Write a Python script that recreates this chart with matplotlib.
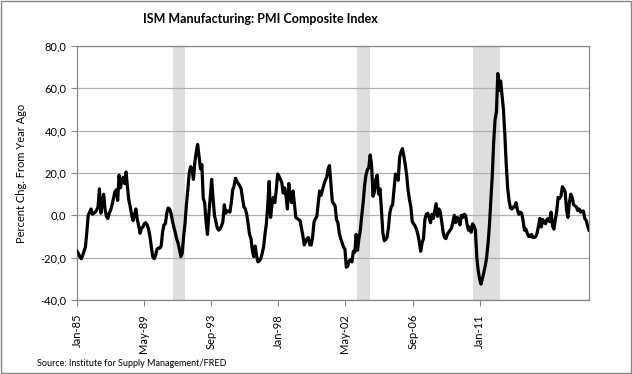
import numpy as np
import matplotlib
matplotlib.use("Agg")
import matplotlib.pyplot as plt
from matplotlib.patches import Rectangle
from matplotlib.ticker import FuncFormatter

plt.rcParams['font.family'] = ['Lato', 'DejaVu Sans']

# year-over-year % change of ISM PMI, monthly Jan-1985 .. Jun-2015
y1985 = [-17.0, -18.0, -19.5, -20.5, -19.0, -17.0, -15.0, -8.0, 0.0, 1.5, 3.0, 0.5]
y1986 = [1.0, 1.5, 2.5, 4.0, 12.5, 1.0, 5.0, 10.0, 3.0, -0.5, -1.5, 1.0]
y1987 = [2.5, 5.0, 8.0, 11.0, 12.0, 7.0, 19.0, 13.0, 17.0, 18.0, 15.0, 20.5]
y1988 = [13.0, 7.0, 4.0, 0.0, -2.5, 0.5, 3.0, -2.0, -5.0, -8.5, -6.0, -5.5]
y1989 = [-4.0, -3.5, -4.5, -6.5, -10.0, -15.0, -19.5, -20.5, -19.0, -16.0, -15.5, -15.5]
y1990 = [-14.5, -8.0, -4.5, -4.0, 1.0, 3.5, 3.0, 1.0, -2.5, -5.5, -8.0, -11.0]
y1991 = [-13.0, -16.0, -19.5, -18.0, -10.0, -4.0, 5.0, 12.0, 20.0, 23.0, 22.0, 17.0]
y1992 = [25.0, 30.0, 33.5, 28.0, 22.0, 24.0, 8.0, 6.0, -3.0, -9.0, 0.5, 9.0]
y1993 = [17.0, 8.0, 0.0, -3.0, -6.0, -7.0, -6.5, -5.0, -3.0, 5.0, 1.0, 2.0]
y1994 = [2.0, 1.5, 6.0, 12.0, 14.0, 17.5, 16.0, 15.0, 14.0, 12.5, 8.0, 4.0]
y1995 = [3.0, 0.5, -4.0, -9.0, -11.0, -16.5, -19.5, -14.5, -19.0, -22.0, -21.5, -20.5]
y1996 = [-18.0, -15.0, -9.0, -4.0, 5.0, 16.0, -1.0, 5.0, 8.5, 6.0, 11.5, 19.5]
y1997 = [18.5, 17.0, 15.5, 10.5, 13.0, 9.0, 3.0, 15.0, 8.5, 6.0, 11.5, 5.5]
y1998 = [-1.0, -1.5, -2.0, -2.5, -6.0, -9.5, -14.0, -12.5, -11.0, -10.5, -14.0, -14.0]
y1999 = [-10.0, -3.0, -1.5, -0.5, 6.0, 11.5, 9.5, 12.0, 14.5, 16.5, 18.0, 22.0]
y2000 = [23.5, 15.0, 6.5, 5.5, 4.5, -2.0, -3.5, -8.5, -11.0, -13.0, -15.0, -16.0]
y2001 = [-24.5, -24.0, -21.5, -21.0, -22.0, -17.0, -17.5, -9.0, -16.5, -11.0, -7.0, 0.0]
y2002 = [6.0, 14.0, 19.0, 21.5, 22.5, 28.5, 24.0, 9.0, 11.0, 17.0, 19.0, 10.0]
y2003 = [12.5, 3.0, -8.0, -12.0, -11.5, -10.5, -6.0, 1.0, 4.0, 5.0, 12.0, 19.5]
y2004 = [19.0, 16.5, 27.5, 30.0, 31.5, 28.0, 24.0, 19.0, 12.0, 7.5, 4.0, -3.0]
y2005 = [-4.0, -5.0, -6.5, -9.0, -12.5, -17.0, -13.0, -11.0, -2.0, 0.5, 1.0, -1.0]
y2006 = [-3.5, 0.5, -1.5, 2.0, 5.5, -0.5, 3.0, 1.5, -3.0, -8.0, -10.5, -11.0]
y2007 = [-9.0, -8.0, -7.0, -6.0, -3.0, 0.0, -3.5, -1.0, -1.5, -4.5, 0.0, -1.0]
y2008 = [0.5, 0.0, -4.0, -7.0, -5.5, -8.0, -4.0, -5.0, -7.0, -19.5, -26.0, -30.0]
y2009 = [-32.5, -30.0, -27.0, -24.0, -20.0, -13.5, -5.0, 7.0, 18.0, 34.0, 45.0, 49.0]
y2010 = [67.0, 59.0, 63.5, 57.0, 50.0, 38.0, 24.0, 13.0, 7.0, 3.5, 3.0, 4.0]
y2011 = [4.0, 6.0, 2.5, 0.5, 1.5, 1.0, -2.5, -7.0, -6.5, -8.5, -10.0, -10.0]
y2012 = [-9.0, -10.5, -10.5, -10.0, -8.5, -5.0, -1.5, -5.5, -2.0, -3.0, -4.0, -2.0]
y2013 = [-1.5, -3.0, 1.5, -5.0, -6.5, -2.0, 2.0, 8.5, 8.0, 9.0, 13.5, 12.5]
y2014 = [11.0, 2.5, -1.0, 6.0, 10.0, 8.5, 5.0, 4.5, 4.0, 2.2, 3.0, 1.5]
y2015 = [2.0, 2.0, -1.5, -2.5, -5.0, -7.0]

values = (y1985 + y1986 + y1987 + y1988 + y1989 + y1990 + y1991 + y1992 + y1993 + y1994
          + y1995 + y1996 + y1997 + y1998 + y1999 + y2000 + y2001 + y2002 + y2003 + y2004
          + y2005 + y2006 + y2007 + y2008 + y2009 + y2010 + y2011 + y2012 + y2013 + y2014 + y2015)
months = np.arange(len(values))

# recession bands, in month index (as placed on the chart)
shade_start = [68.2, 199.8, 282.6]
shade_end = [77.1, 208.6, 301.6]

tick_labels = ["Jan-85", "May-89", "Sep-93", "Jan-98", "May-02", "Sep-06", "Jan-11"]
tick_pos = [0, 47.5, 95.5, 143.5, 191, 239.5, 287]

fig = plt.figure(figsize=(6.32, 3.74), dpi=100)
ax = fig.add_axes([77/632, 1-300/374, 512/632, 254/374])

for s, e in zip(shade_start, shade_end):
    ax.axvspan(s, e, color="#dedede", lw=0, zorder=0)

ax.plot(months, values, color="black", lw=2.3, zorder=3, solid_joinstyle="round")

ax.set_xlim(0, len(values) - 1)
ax.set_ylim(-40, 80)
ax.set_yticks(np.arange(-40, 81, 20))
ax.yaxis.set_major_formatter(FuncFormatter(lambda v, p: f"{v:.1f}".replace(".", ",")))
ax.grid(axis="y", color="#b0b0b0", lw=0.9)
ax.set_axisbelow(True)
ax.set_xticks(tick_pos)
ax.set_xticklabels(tick_labels, rotation=90)
ax.tick_params(axis="both", labelsize=8, colors="#868686", labelcolor="black", length=4, width=0.8)
ax.tick_params(axis="x", pad=6)
for sp in ax.spines.values():
    sp.set_color("#868686")
    sp.set_linewidth(0.9)

ax.set_ylabel("Percent Chg. From Year Ago", fontsize=8)
ax.yaxis.set_label_coords(-0.098, 0.5)

fig.text(260/632, 1 - 19/374, "ISM Manufacturing: PMI Composite Index",
         ha="center", va="center", fontsize=9, fontweight="bold")
fig.text(37/632, 1 - 363/374, "Source: Institute for Supply Management/FRED",
         ha="left", va="center", fontsize=6.5)

fig.add_artist(Rectangle((0.001, 0.002), 0.997, 0.996, transform=fig.transFigure,
                         fill=False, edgecolor="#868686", lw=1))

fig.savefig("out.png", dpi=100)
